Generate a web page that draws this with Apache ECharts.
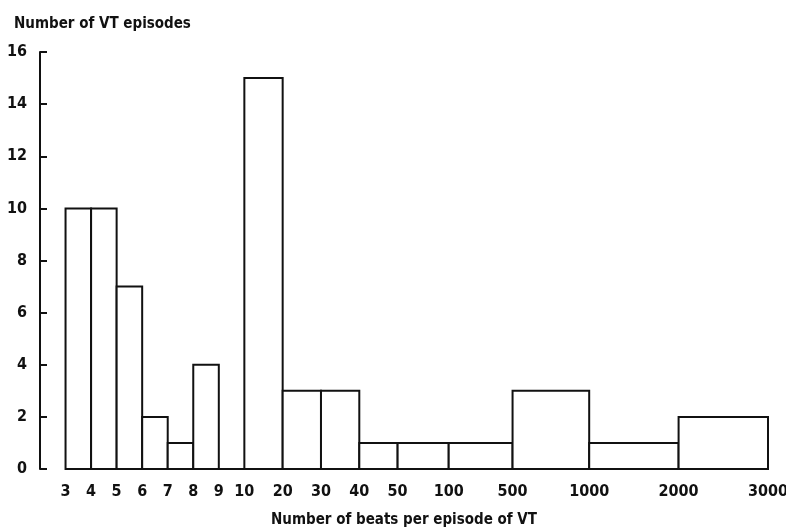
<!DOCTYPE html>
<html>
<head>
<meta charset="utf-8">
<script src="https://cdn.jsdelivr.net/npm/echarts@6/dist/echarts.min.js"></script>
<style>
html,body{margin:0;padding:0;background:#fff;}
#chart{width:786px;height:528px;}
</style>
</head>
<body>
<div id="chart"></div>
<script>
// Bin edge labels (beats per episode) and their places on the drawn (non-linear) axis
const edgeLabels = ['3','4','5','6','7','8','9','10','20','30','40','50','100','500','1000','2000','3000'];
const edgeAxisPos = [0,1,2,3,4,5,6,7,8.5,10,11.5,13,15,17.5,20.5,24,27.5];
// Number of VT episodes in each bin (between consecutive edges)
const counts = [10,10,7,2,1,4,0,15,3,3,1,1,1,3,1,2];
const yTicks = [0,2,4,6,8,10,12,14,16];

const FONT = '"Liberation Sans Narrow","DejaVu Sans Condensed","Liberation Sans",sans-serif';

const labelByPos = {};
edgeAxisPos.forEach((p, i) => { labelByPos[Math.round(p * 2)] = edgeLabels[i]; });

const binData = counts.map((c, i) => [edgeAxisPos[i], edgeAxisPos[i + 1], c]);

const chart = echarts.init(document.getElementById('chart'), null, {renderer: 'canvas'});
chart.setOption({
  animation: false,
  backgroundColor: '#fff',
  title: {
    text: 'Number of VT episodes',
    left: 9, top: 12,
    textStyle: {fontFamily: FONT, fontSize: 15, fontWeight: 'bold', color: '#111'}
  },
  grid: {left: 40, right: 18, top: 52, bottom: 59, containLabel: false, outerBoundsMode: 'none'},
  xAxis: {
    type: 'value',
    min: -1, max: 27.5, interval: 0.5,
    axisLine: {show: false},
    axisTick: {show: false},
    splitLine: {show: false},
    axisLabel: {
      margin: 15,
      fontFamily: FONT, fontSize: 16, fontWeight: 'bold', color: '#111',
      formatter: v => labelByPos[Math.round(v * 2)] || ''
    },
    name: 'Number of beats per episode of VT',
    nameLocation: 'middle', nameGap: 44,
    nameTextStyle: {fontFamily: FONT, fontSize: 15, fontWeight: 'bold', color: '#111'}
  },
  yAxis: {
    type: 'value',
    min: yTicks[0], max: yTicks[yTicks.length - 1], interval: 2,
    axisLine: {show: true, onZero: false, lineStyle: {color: '#111', width: 2}},
    axisTick: {show: true, inside: true, length: 7, lineStyle: {color: '#111', width: 2}},
    splitLine: {show: false},
    axisLabel: {
      margin: 13,
      fontFamily: FONT, fontSize: 16, fontWeight: 'bold', color: '#111'
    }
  },
  series: [{
    type: 'custom',
    data: binData,
    encode: {x: [0, 1], y: 2},
    renderItem: function (params, api) {
      const p0 = api.coord([api.value(0), 0]);
      const p1 = api.coord([api.value(1), api.value(2)]);
      return {
        type: 'rect',
        shape: {x: p0[0], y: p1[1], width: p1[0] - p0[0], height: p0[1] - p1[1]},
        style: {fill: '#fff', stroke: '#111', lineWidth: 2}
      };
    }
  }]
});
</script>
</body>
</html>
